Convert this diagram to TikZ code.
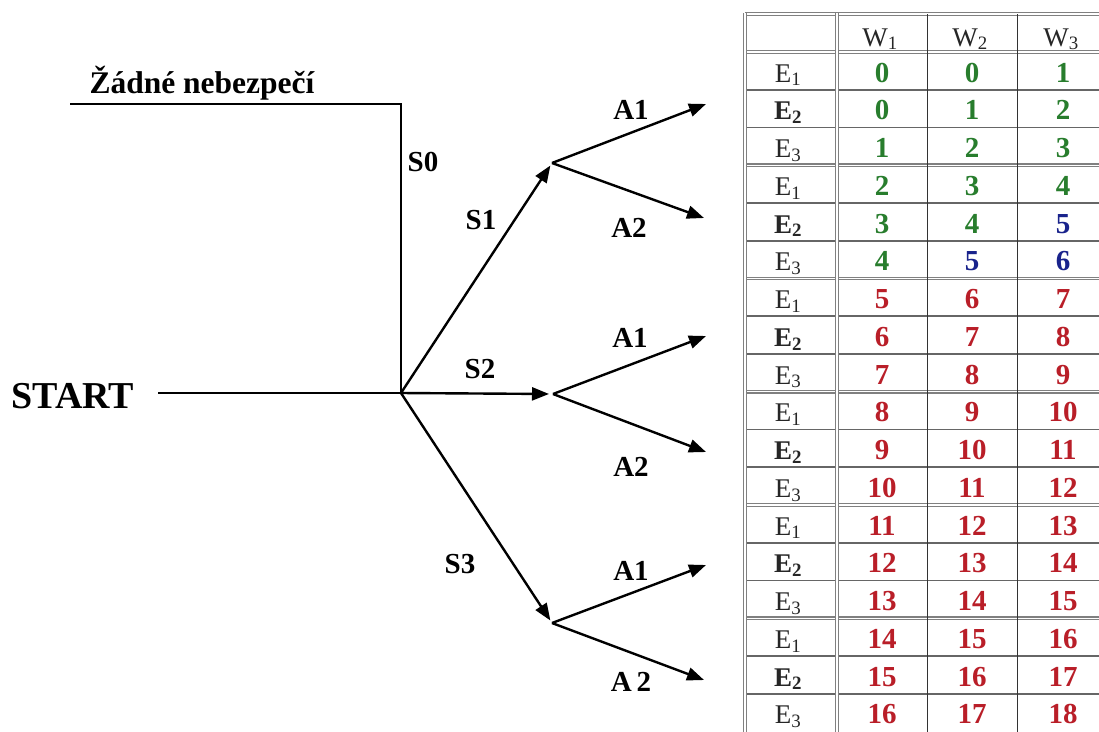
\documentclass[tikz,border=0pt]{standalone}
\usepackage{fontspec}
\setmainfont{Liberation Serif}
\usetikzlibrary{arrows.meta}
\definecolor{numgreen}{RGB}{40,125,45}
\definecolor{numblue}{RGB}{25,35,140}
\definecolor{numred}{RGB}{185,30,40}
\begin{document}
\begin{tikzpicture}[x=1pt,y=-1pt,
  treeline/.style={line width=2.4pt,black},
  arr/.style={treeline,-{Triangle[length=17pt,width=13pt]}},
  lab/.style={inner sep=0pt,font=\fontsize{29}{32}\selectfont\bfseries},
  toptxt/.style={inner sep=0pt,anchor=base,font=\fontsize{31.5}{34}\selectfont\bfseries},
  bigtxt/.style={inner sep=0pt,anchor=base,font=\fontsize{38}{40}\selectfont\bfseries},
  cell/.style={inner sep=0pt,anchor=base,font=\fontsize{27}{28}\selectfont,text=black!85},
  num/.style={inner sep=0pt,anchor=base,font=\fontsize{29}{30}\selectfont\bfseries},
  rowline/.style={draw=gray!80!black,line width=1.6pt},
  dblline/.style={draw=gray,line width=1.2pt,double=white,double distance=1.3pt},
  colline/.style={draw=black!80,line width=1pt}]
\useasboundingbox (0,0) rectangle (1099,731);
\fill[white] (0,0) rectangle (1099,731);

% ---------------- tree ----------------
\node[toptxt] (zadne) at (202,93) {Žádné nebezpečí};
\coordinate (zl) at (70,104);
\coordinate (zc) at (401,104);
\coordinate (root) at (401,393);
\draw[treeline] (zl) -- (zc) -- (root);

\node[bigtxt] (start) at (73,408) {START};
\coordinate (sl) at (158,393);
\draw[treeline] (sl) -- (root);

\coordinate (b1) at (552,163);
\coordinate (b2) at (553,394);
\coordinate (b3) at (552,623);
\draw[arr,shorten >=3pt] (root) -- (b1);
\draw[arr,shorten >=4pt] (root) -- (b2);
\draw[arr,shorten >=3pt] (root) -- (b3);

\coordinate (t11) at (706,104);
\coordinate (t12) at (704,218);
\coordinate (t21) at (706,336);
\coordinate (t22) at (706,452);
\coordinate (t31) at (706,565);
\coordinate (t32) at (704,680);
\draw[arr] (b1) -- (t11);
\draw[arr] (b1) -- (t12);
\draw[arr] (b2) -- (t21);
\draw[arr] (b2) -- (t22);
\draw[arr] (b3) -- (t31);
\draw[arr] (b3) -- (t32);

\node[lab] (ls0) at (423,162) {S0};
\node[lab] (ls1) at (481,220) {S1};
\node[lab] (ls2) at (480,369) {S2};
\node[lab] (ls3) at (460,564) {S3};
\node[lab] (la11) at (631,110) {A1};
\node[lab] (la12) at (629,228) {A2};
\node[lab] (la21) at (630,338) {A1};
\node[lab] (la22) at (631,467) {A2};
\node[lab] (la31) at (631,571) {A1};
\node[lab] (la32) at (631,682) {A\,2};

% ---------------- table ----------------
\foreach \i in {1,2,4,5,7,8,10,11,13,14,16,17}
  \draw[rowline] (747,{52+37.75*\i}) -- (1112,{52+37.75*\i});
\foreach \i in {0,3,6,9,12,15}
  \draw[dblline] (747,{52+37.75*\i}) -- (1112,{52+37.75*\i});
\draw[dblline] (745,14) -- (1112,14);
\draw[colline] (927,14) -- (927,736);
\draw[colline] (1017,14) -- (1017,736);
\draw[dblline] (745,13) -- (745,736);
\draw[dblline] (837,13) -- (837,736);

\node[cell] (w1) at (880,46) {W\textsubscript{1}};
\node[cell] (w2) at (970,46) {W\textsubscript{2}};
\node[cell] (w3) at (1061,46) {W\textsubscript{3}};

\foreach \g in {0,...,5}{
  \node[cell] (e\g a) at (788,{52+37.75*(3*\g)+30}) {E\textsubscript{1}};
  \node[cell] (e\g b) at (788,{52+37.75*(3*\g+1)+30}) {\textbf{E\textsubscript{2}}};
  \node[cell] (e\g c) at (788,{52+37.75*(3*\g+2)+30}) {E\textsubscript{3}};
}

\foreach [count=\r from 0] \a/\b/\c/\ca/\cb/\cc in {
  0/0/1/numgreen/numgreen/numgreen,
  0/1/2/numgreen/numgreen/numgreen,
  1/2/3/numgreen/numgreen/numgreen,
  2/3/4/numgreen/numgreen/numgreen,
  3/4/5/numgreen/numgreen/numblue,
  4/5/6/numgreen/numblue/numblue,
  5/6/7/numred/numred/numred,
  6/7/8/numred/numred/numred,
  7/8/9/numred/numred/numred,
  8/9/10/numred/numred/numred,
  9/10/11/numred/numred/numred,
  10/11/12/numred/numred/numred,
  11/12/13/numred/numred/numred,
  12/13/14/numred/numred/numred,
  13/14/15/numred/numred/numred,
  14/15/16/numred/numred/numred,
  15/16/17/numred/numred/numred,
  16/17/18/numred/numred/numred}{
  \node[num,text=\ca] (v\r x) at (882,{52+37.75*\r+30}) {\a};
  \node[num,text=\cb] (v\r y) at (972,{52+37.75*\r+30}) {\b};
  \node[num,text=\cc] (v\r z) at (1063,{52+37.75*\r+30}) {\c};
}
\end{tikzpicture}
\end{document}
